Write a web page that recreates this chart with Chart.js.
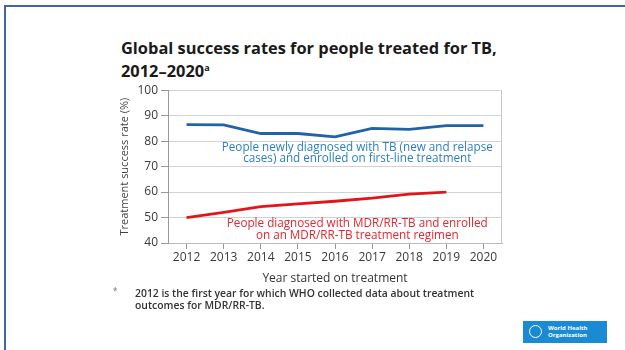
<!DOCTYPE html>
<html>
<head>
<meta charset="utf-8">
<script src="https://cdn.jsdelivr.net/npm/chart.js@4"></script>
<style>
  html, body { margin: 0; padding: 0; background: #fff; }
  body { width: 625px; height: 350px; overflow: hidden; position: relative; font-family: "Open Sans", sans-serif; }
  #frame { position: absolute; left: 4px; top: 5px; right: -10px; bottom: -10px; border-top: 2px solid #3f67a3; border-left: 2px solid #3f67a3; }
  #title { position: absolute; left: 121px; top: 38px; font-size: 16.4px; font-weight: 700; line-height: 20px; color: #1a1a1a; }
  #title sup { font-size: 9px; vertical-align: 6px; }
  #wrap { position: absolute; left: 118px; top: 80px; width: 402px; height: 210px; }
  #note { position: absolute; left: 113px; top: 287px; font-size: 10.4px; font-weight: 600; line-height: 12px; color: #333; }
  #note .star { position: absolute; left: 0; top: -2px; font-size: 8px; color: #888; }
  #note .txt { margin-left: 22px; }
  #logo { position: absolute; left: 523px; top: 321px; width: 84px; height: 22px; background: #1a8ad4; color: #fff; }
  #logo .emb { position: absolute; left: 6px; top: 4px; width: 13px; height: 13px; border: 1.5px solid #fff; border-radius: 50%; box-sizing: border-box; }
  #logo .nm { position: absolute; left: 25px; top: 4px; font-size: 6px; line-height: 7px; font-weight: 700; }
</style>
</head>
<body>
<div id="frame"></div>
<div id="title">Global success rates for people treated for TB,<br>2012–2020<sup>a</sup></div>
<div id="wrap"><canvas id="tbChart" width="402" height="210"></canvas></div>
<div id="note"><span class="star">*</span><div class="txt">2012 is the first year for which WHO collected data about treatment<br>outcomes for MDR/RR-TB.</div></div>
<div id="logo"><div class="emb"></div><div class="nm">World Health<br>Organization</div></div>
<script>
  // 데이터
  const years = ['2012', '2013', '2014', '2015', '2016', '2017', '2018', '2019', '2020'];
  const newRelapse = [86.5, 86.4, 83, 83, 81.7, 85, 84.6, 86.1, 86.1];
  const mdrRr = [50, 52, 54.3, 55.4, 56.4, 57.6, 59.2, 60, null];
  const yTicks = [40, 50, 60, 70, 80, 90, 100];

  // 선 옆의 설명 문구 (x = 카테고리 위치, y = 값)
  const blueNote = ['People newly diagnosed with TB (new and relapse', 'cases) and enrolled on first-line treatment'];
  const redNote = ['People diagnosed with MDR/RR-TB and enrolled', 'on an MDR/RR-TB treatment regimen'];
  const noteX = 4.6;
  const blueNoteY = [77.6, 73.1];
  const redNoteY = [47.4, 43];

  const noteColors = { blue: '#2b7fc1', red: '#e3262f' };

  const annotations = {
    id: 'lineNotes',
    afterDatasetsDraw(chart) {
      const { ctx, scales: { x, y }, chartArea } = chart;
      ctx.save();
      // 오른쪽 테두리
      ctx.strokeStyle = '#c8c8c8';
      ctx.lineWidth = 1;
      ctx.beginPath();
      ctx.moveTo(chartArea.right - 0.5, chartArea.top);
      ctx.lineTo(chartArea.right - 0.5, chartArea.bottom);
      ctx.stroke();

      ctx.font = '11.7px "Open Sans"';
      ctx.textAlign = 'center';
      ctx.textBaseline = 'middle';
      ctx.fillStyle = noteColors.blue;
      blueNote.forEach((t, i) => ctx.fillText(t, x.getPixelForValue(noteX), y.getPixelForValue(blueNoteY[i])));
      ctx.fillStyle = noteColors.red;
      redNote.forEach((t, i) => ctx.fillText(t, x.getPixelForValue(noteX), y.getPixelForValue(redNoteY[i])));
      ctx.restore();
    }
  };

  const ctx = document.getElementById('tbChart').getContext('2d');
  new Chart(ctx, {
    type: 'line',
    data: {
      labels: years,
      datasets: [{
        label: 'New and relapse',
        data: newRelapse,
        borderColor: '#2163a9',
        borderWidth: 2.8,
        pointRadius: 0,
        tension: 0
      }, {
        label: 'MDR/RR-TB',
        data: mdrRr,
        borderColor: '#e3151b',
        borderWidth: 2.8,
        pointRadius: 0,
        tension: 0
      }]
    },
    options: {
      responsive: false,
      animation: false,
      layout: { padding: { top: 9, right: 18, left: 0, bottom: 0 } },
      plugins: { legend: { display: false }, tooltip: { enabled: false } },
      scales: {
        x: {
          offset: true,
          grid: { drawOnChartArea: false, drawTicks: true, tickLength: 6, color: '#999', offset: false },
          border: { color: '#bbb' },
          ticks: { color: '#3a3a3a', font: { family: 'Open Sans', size: 12 }, padding: 1, maxRotation: 0 },
          title: { display: true, text: 'Year started on treatment', color: '#333', font: { family: 'Open Sans', size: 12 }, padding: { top: 0 } },
          afterFit(scale) { scale.height = 47; }
        },
        y: {
          min: 40,
          max: 100,
          afterBuildTicks(scale) { scale.ticks = yTicks.map(v => ({ value: v })); },
          grid: { color: '#d2d2d2', tickLength: 7, tickColor: '#999' },
          border: { color: '#999' },
          ticks: { color: '#3a3a3a', font: { family: 'Open Sans', size: 12 }, padding: 3 },
          title: { display: true, text: 'Treatment success rate (%)', color: '#444', font: { family: 'Open Sans', size: 11 }, padding: 0 },
          afterFit(scale) { scale.width = 50; }
        }
      }
    },
    plugins: [annotations]
  });
</script>
</body>
</html>
